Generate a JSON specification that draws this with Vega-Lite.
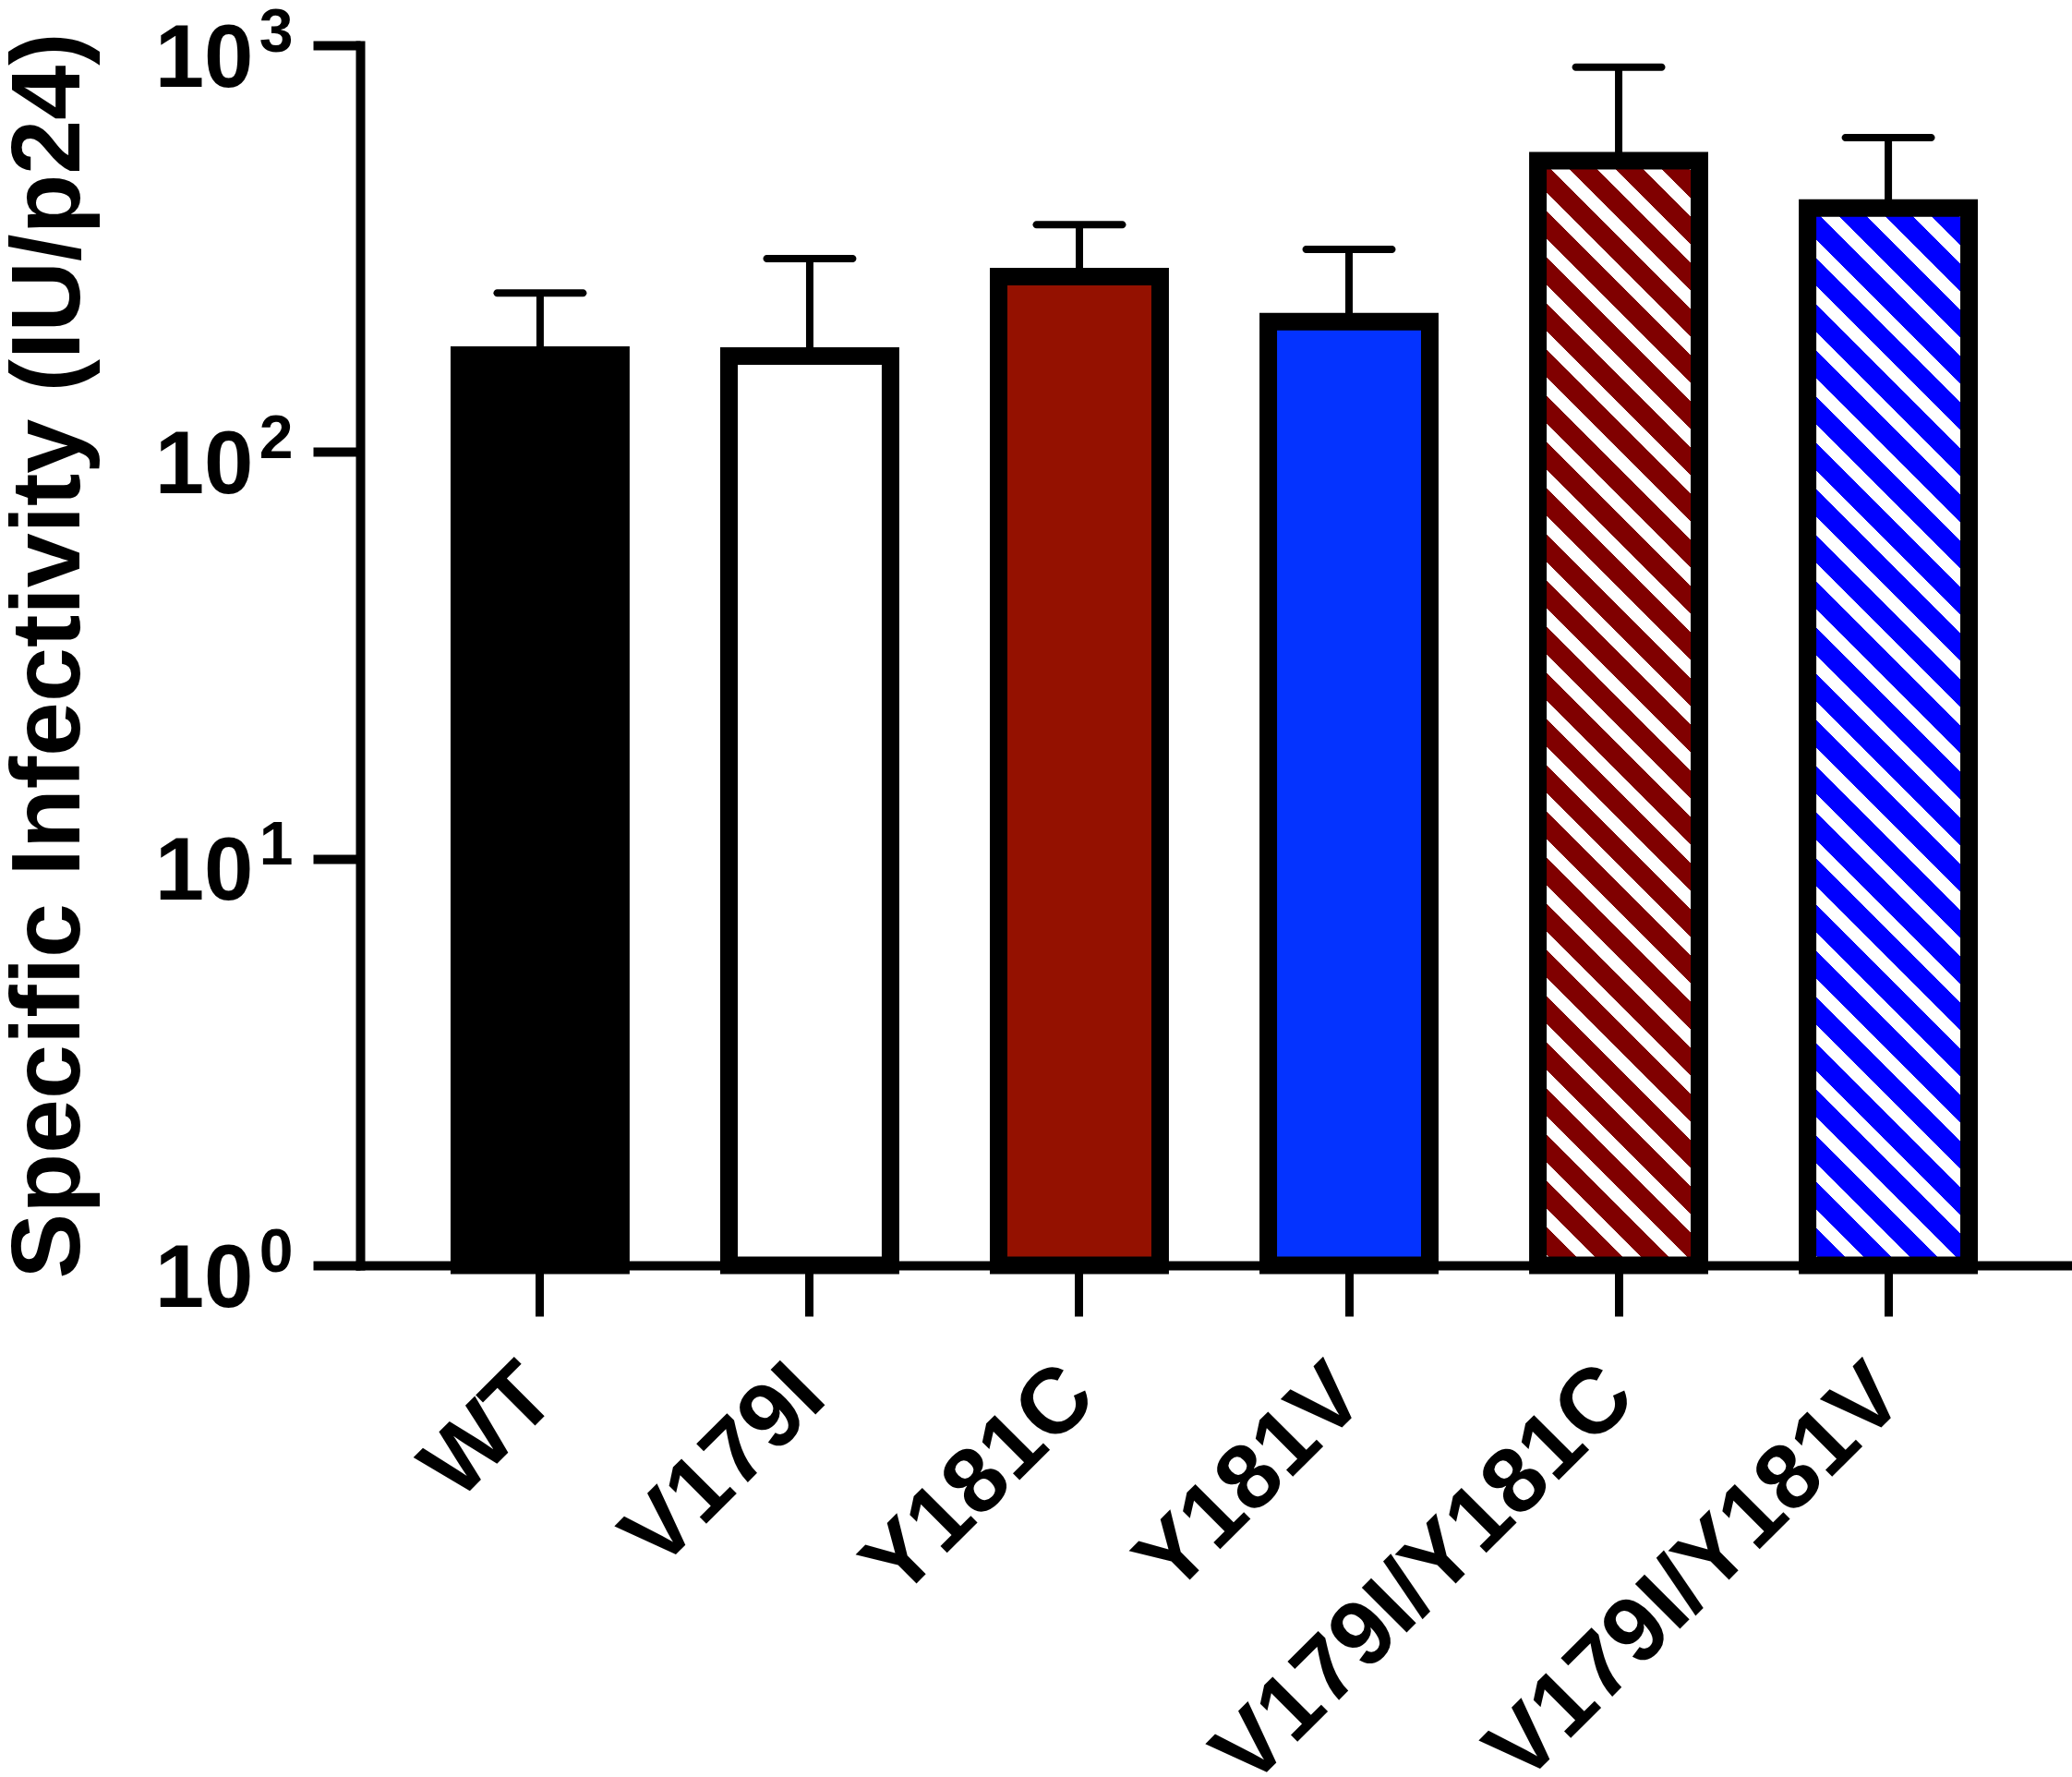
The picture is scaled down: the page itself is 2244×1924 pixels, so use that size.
{
  "$schema": "https://vega.github.io/schema/vega-lite/v6.json",
  "width": 1850,
  "height": 1321,
  "autosize": {"type": "none"},
  "padding": {"left": 390, "top": 49, "right": 4, "bottom": 554},
  "background": "white",
  "config": {"view": {"stroke": null}},
  "data": {
    "values": [
      {"name": "WT", "value": 173, "upper": 246},
      {"name": "V179I", "value": 172, "upper": 299},
      {"name": "Y181C", "value": 270, "upper": 362},
      {"name": "Y181V", "value": 209, "upper": 315},
      {"name": "V179I/Y181C", "value": 520, "upper": 883},
      {"name": "V179I/Y181V", "value": 398, "upper": 593}
    ]
  },
  "resolve": {"axis": {"y": "independent"}},
  "encoding": {
    "x": {
      "field": "name",
      "type": "nominal",
      "sort": null,
      "scale": {"paddingInner": 0.401, "paddingOuter": 0.368},
      "axis": {
        "title": null,
        "zindex": 1,
        "domainColor": "black",
        "domainWidth": 10,
        "domainCap": "square",
        "tickColor": "black",
        "tickWidth": 9,
        "tickSize": 55,
        "labelAngle": -45,
        "labelAlign": "right",
        "labelBaseline": "middle",
        "labelPadding": 70,
        "labelFont": "Liberation Sans",
        "labelFontWeight": "bold",
        "labelFontSize": 100,
        "labelColor": "black",
        "labelOverlap": false,
        "labelBound": false,
        "labelFlush": false,
        "labelLimit": 2000
      }
    },
    "y": {
      "field": "value",
      "type": "quantitative",
      "scale": {"type": "log", "domain": [1, 1000], "nice": false},
      "axis": null
    }
  },
  "layer": [
    {
      "mark": {"type": "rule", "color": "black", "strokeWidth": 8},
      "encoding": {
        "y": {
          "field": "upper",
          "type": "quantitative",
          "axis": {
            "title": "Specific Infectivity (IU/p24)",
            "titleFont": "Liberation Sans",
            "titleFontWeight": "bold",
            "titleFontSize": 106,
            "titleColor": "black",
            "titlePadding": 83,
            "orient": "left",
            "zindex": 1,
            "values": [1, 10, 100, 1000],
            "grid": false,
            "domainColor": "black",
            "domainWidth": 10,
            "domainCap": "square",
            "tickColor": "black",
            "tickWidth": 10,
            "tickSize": 51,
            "labelPadding": 65,
            "labelBaseline": "alphabetic",
            "labelOffset": 44,
            "labelFont": "Liberation Sans",
            "labelFontWeight": "bold",
            "labelFontSize": 96,
            "labelColor": "black",
            "labelExpr": "'10'",
            "labelOverlap": false,
            "labelFlush": false,
            "labelBound": false
          }
        },
        "y2": {"field": "value"}
      }
    },
    {
      "mark": {"type": "tick", "color": "black", "opacity": 1, "size": 101, "thickness": 8, "cornerRadius": 4, "orient": "horizontal"},
      "encoding": {
        "y": {
          "field": "upper",
          "type": "quantitative",
          "axis": {
            "title": null,
            "orient": "left",
            "zindex": 1,
            "values": [1, 10, 100, 1000],
            "grid": false,
            "domain": false,
            "ticks": true,
            "tickOpacity": 0,
            "tickSize": 51,
            "labelPadding": 22,
            "labelBaseline": "alphabetic",
            "labelOffset": 6,
            "labelFont": "Liberation Sans",
            "labelFontWeight": "bold",
            "labelFontSize": 66,
            "labelColor": "black",
            "labelExpr": "datum.value == 1 ? '0' : datum.value == 10 ? '1' : datum.value == 100 ? '2' : '3'",
            "labelOverlap": false,
            "labelFlush": false,
            "labelBound": false
          }
        }
      }
    },
    {
      "transform": [{"filter": "datum.name == 'WT' || datum.name == 'V179I' || datum.name == 'Y181C' || datum.name == 'Y181V'"}],
      "mark": {"type": "bar", "stroke": "black", "strokeWidth": 19, "strokeJoin": "miter"},
      "encoding": {
        "y2": {"datum": 1},
        "fill": {
          "field": "name",
          "type": "nominal",
          "scale": {"domain": ["WT", "V179I", "Y181C", "Y181V"], "range": ["#000000", "#ffffff", "#941100", "#0433ff"]},
          "legend": null
        }
      }
    },
    {
      "transform": [{"filter": "datum.name == 'V179I/Y181C'"}],
      "mark": {
        "type": "bar",
        "stroke": "black",
        "strokeWidth": 19,
        "strokeJoin": "miter",
        "fill": {
          "gradient": "linear",
          "x1": 0, "y1": 1, "x2": 0.16421, "y2": -0.12229,
          "stops": [
            {"offset": 0, "color": "#800000"},
            {"offset": 0.0007, "color": "#800000"}, {"offset": 0.0007, "color": "#ffffff"}, {"offset": 0.0153, "color": "#ffffff"}, {"offset": 0.0153, "color": "#800000"},
            {"offset": 0.0372, "color": "#800000"}, {"offset": 0.0372, "color": "#ffffff"}, {"offset": 0.0518, "color": "#ffffff"}, {"offset": 0.0518, "color": "#800000"},
            {"offset": 0.0737, "color": "#800000"}, {"offset": 0.0737, "color": "#ffffff"}, {"offset": 0.0883, "color": "#ffffff"}, {"offset": 0.0883, "color": "#800000"},
            {"offset": 0.1101, "color": "#800000"}, {"offset": 0.1101, "color": "#ffffff"}, {"offset": 0.1247, "color": "#ffffff"}, {"offset": 0.1247, "color": "#800000"},
            {"offset": 0.1466, "color": "#800000"}, {"offset": 0.1466, "color": "#ffffff"}, {"offset": 0.1612, "color": "#ffffff"}, {"offset": 0.1612, "color": "#800000"},
            {"offset": 0.1831, "color": "#800000"}, {"offset": 0.1831, "color": "#ffffff"}, {"offset": 0.1977, "color": "#ffffff"}, {"offset": 0.1977, "color": "#800000"},
            {"offset": 0.2195, "color": "#800000"}, {"offset": 0.2195, "color": "#ffffff"}, {"offset": 0.2341, "color": "#ffffff"}, {"offset": 0.2341, "color": "#800000"},
            {"offset": 0.2560, "color": "#800000"}, {"offset": 0.2560, "color": "#ffffff"}, {"offset": 0.2706, "color": "#ffffff"}, {"offset": 0.2706, "color": "#800000"},
            {"offset": 0.2925, "color": "#800000"}, {"offset": 0.2925, "color": "#ffffff"}, {"offset": 0.3071, "color": "#ffffff"}, {"offset": 0.3071, "color": "#800000"},
            {"offset": 0.3290, "color": "#800000"}, {"offset": 0.3290, "color": "#ffffff"}, {"offset": 0.3436, "color": "#ffffff"}, {"offset": 0.3436, "color": "#800000"},
            {"offset": 0.3654, "color": "#800000"}, {"offset": 0.3654, "color": "#ffffff"}, {"offset": 0.3800, "color": "#ffffff"}, {"offset": 0.3800, "color": "#800000"},
            {"offset": 0.4019, "color": "#800000"}, {"offset": 0.4019, "color": "#ffffff"}, {"offset": 0.4165, "color": "#ffffff"}, {"offset": 0.4165, "color": "#800000"},
            {"offset": 0.4384, "color": "#800000"}, {"offset": 0.4384, "color": "#ffffff"}, {"offset": 0.4530, "color": "#ffffff"}, {"offset": 0.4530, "color": "#800000"},
            {"offset": 0.4748, "color": "#800000"}, {"offset": 0.4748, "color": "#ffffff"}, {"offset": 0.4894, "color": "#ffffff"}, {"offset": 0.4894, "color": "#800000"},
            {"offset": 0.5113, "color": "#800000"}, {"offset": 0.5113, "color": "#ffffff"}, {"offset": 0.5259, "color": "#ffffff"}, {"offset": 0.5259, "color": "#800000"},
            {"offset": 0.5478, "color": "#800000"}, {"offset": 0.5478, "color": "#ffffff"}, {"offset": 0.5624, "color": "#ffffff"}, {"offset": 0.5624, "color": "#800000"},
            {"offset": 0.5842, "color": "#800000"}, {"offset": 0.5842, "color": "#ffffff"}, {"offset": 0.5988, "color": "#ffffff"}, {"offset": 0.5988, "color": "#800000"},
            {"offset": 0.6207, "color": "#800000"}, {"offset": 0.6207, "color": "#ffffff"}, {"offset": 0.6353, "color": "#ffffff"}, {"offset": 0.6353, "color": "#800000"},
            {"offset": 0.6572, "color": "#800000"}, {"offset": 0.6572, "color": "#ffffff"}, {"offset": 0.6718, "color": "#ffffff"}, {"offset": 0.6718, "color": "#800000"},
            {"offset": 0.6936, "color": "#800000"}, {"offset": 0.6936, "color": "#ffffff"}, {"offset": 0.7082, "color": "#ffffff"}, {"offset": 0.7082, "color": "#800000"},
            {"offset": 0.7301, "color": "#800000"}, {"offset": 0.7301, "color": "#ffffff"}, {"offset": 0.7447, "color": "#ffffff"}, {"offset": 0.7447, "color": "#800000"},
            {"offset": 0.7666, "color": "#800000"}, {"offset": 0.7666, "color": "#ffffff"}, {"offset": 0.7812, "color": "#ffffff"}, {"offset": 0.7812, "color": "#800000"},
            {"offset": 0.8031, "color": "#800000"}, {"offset": 0.8031, "color": "#ffffff"}, {"offset": 0.8177, "color": "#ffffff"}, {"offset": 0.8177, "color": "#800000"},
            {"offset": 0.8395, "color": "#800000"}, {"offset": 0.8395, "color": "#ffffff"}, {"offset": 0.8541, "color": "#ffffff"}, {"offset": 0.8541, "color": "#800000"},
            {"offset": 0.8760, "color": "#800000"}, {"offset": 0.8760, "color": "#ffffff"}, {"offset": 0.8906, "color": "#ffffff"}, {"offset": 0.8906, "color": "#800000"},
            {"offset": 0.9125, "color": "#800000"}, {"offset": 0.9125, "color": "#ffffff"}, {"offset": 0.9271, "color": "#ffffff"}, {"offset": 0.9271, "color": "#800000"},
            {"offset": 0.9489, "color": "#800000"}, {"offset": 0.9489, "color": "#ffffff"}, {"offset": 0.9635, "color": "#ffffff"}, {"offset": 0.9635, "color": "#800000"},
            {"offset": 0.9854, "color": "#800000"}, {"offset": 0.9854, "color": "#ffffff"}, {"offset": 1, "color": "#ffffff"}
          ]
        }
      },
      "encoding": {"y2": {"datum": 1}}
    },
    {
      "transform": [{"filter": "datum.name == 'V179I/Y181V'"}],
      "mark": {
        "type": "bar",
        "stroke": "black",
        "strokeWidth": 19,
        "strokeJoin": "miter",
        "fill": {
          "gradient": "linear",
          "x1": 0, "y1": 1, "x2": 0.17218, "y2": -0.12652,
          "stops": [
            {"offset": 0, "color": "#ffffff"}, {"offset": 0.0152, "color": "#ffffff"}, {"offset": 0.0152, "color": "#0000ff"},
            {"offset": 0.0379, "color": "#0000ff"}, {"offset": 0.0379, "color": "#ffffff"}, {"offset": 0.0530, "color": "#ffffff"}, {"offset": 0.0530, "color": "#0000ff"},
            {"offset": 0.0758, "color": "#0000ff"}, {"offset": 0.0758, "color": "#ffffff"}, {"offset": 0.0909, "color": "#ffffff"}, {"offset": 0.0909, "color": "#0000ff"},
            {"offset": 0.1136, "color": "#0000ff"}, {"offset": 0.1136, "color": "#ffffff"}, {"offset": 0.1288, "color": "#ffffff"}, {"offset": 0.1288, "color": "#0000ff"},
            {"offset": 0.1515, "color": "#0000ff"}, {"offset": 0.1515, "color": "#ffffff"}, {"offset": 0.1667, "color": "#ffffff"}, {"offset": 0.1667, "color": "#0000ff"},
            {"offset": 0.1894, "color": "#0000ff"}, {"offset": 0.1894, "color": "#ffffff"}, {"offset": 0.2045, "color": "#ffffff"}, {"offset": 0.2045, "color": "#0000ff"},
            {"offset": 0.2273, "color": "#0000ff"}, {"offset": 0.2273, "color": "#ffffff"}, {"offset": 0.2424, "color": "#ffffff"}, {"offset": 0.2424, "color": "#0000ff"},
            {"offset": 0.2652, "color": "#0000ff"}, {"offset": 0.2652, "color": "#ffffff"}, {"offset": 0.2803, "color": "#ffffff"}, {"offset": 0.2803, "color": "#0000ff"},
            {"offset": 0.3030, "color": "#0000ff"}, {"offset": 0.3030, "color": "#ffffff"}, {"offset": 0.3182, "color": "#ffffff"}, {"offset": 0.3182, "color": "#0000ff"},
            {"offset": 0.3409, "color": "#0000ff"}, {"offset": 0.3409, "color": "#ffffff"}, {"offset": 0.3561, "color": "#ffffff"}, {"offset": 0.3561, "color": "#0000ff"},
            {"offset": 0.3788, "color": "#0000ff"}, {"offset": 0.3788, "color": "#ffffff"}, {"offset": 0.3939, "color": "#ffffff"}, {"offset": 0.3939, "color": "#0000ff"},
            {"offset": 0.4167, "color": "#0000ff"}, {"offset": 0.4167, "color": "#ffffff"}, {"offset": 0.4318, "color": "#ffffff"}, {"offset": 0.4318, "color": "#0000ff"},
            {"offset": 0.4545, "color": "#0000ff"}, {"offset": 0.4545, "color": "#ffffff"}, {"offset": 0.4697, "color": "#ffffff"}, {"offset": 0.4697, "color": "#0000ff"},
            {"offset": 0.4924, "color": "#0000ff"}, {"offset": 0.4924, "color": "#ffffff"}, {"offset": 0.5076, "color": "#ffffff"}, {"offset": 0.5076, "color": "#0000ff"},
            {"offset": 0.5303, "color": "#0000ff"}, {"offset": 0.5303, "color": "#ffffff"}, {"offset": 0.5455, "color": "#ffffff"}, {"offset": 0.5455, "color": "#0000ff"},
            {"offset": 0.5682, "color": "#0000ff"}, {"offset": 0.5682, "color": "#ffffff"}, {"offset": 0.5833, "color": "#ffffff"}, {"offset": 0.5833, "color": "#0000ff"},
            {"offset": 0.6061, "color": "#0000ff"}, {"offset": 0.6061, "color": "#ffffff"}, {"offset": 0.6212, "color": "#ffffff"}, {"offset": 0.6212, "color": "#0000ff"},
            {"offset": 0.6439, "color": "#0000ff"}, {"offset": 0.6439, "color": "#ffffff"}, {"offset": 0.6591, "color": "#ffffff"}, {"offset": 0.6591, "color": "#0000ff"},
            {"offset": 0.6818, "color": "#0000ff"}, {"offset": 0.6818, "color": "#ffffff"}, {"offset": 0.6970, "color": "#ffffff"}, {"offset": 0.6970, "color": "#0000ff"},
            {"offset": 0.7197, "color": "#0000ff"}, {"offset": 0.7197, "color": "#ffffff"}, {"offset": 0.7348, "color": "#ffffff"}, {"offset": 0.7348, "color": "#0000ff"},
            {"offset": 0.7576, "color": "#0000ff"}, {"offset": 0.7576, "color": "#ffffff"}, {"offset": 0.7727, "color": "#ffffff"}, {"offset": 0.7727, "color": "#0000ff"},
            {"offset": 0.7955, "color": "#0000ff"}, {"offset": 0.7955, "color": "#ffffff"}, {"offset": 0.8106, "color": "#ffffff"}, {"offset": 0.8106, "color": "#0000ff"},
            {"offset": 0.8333, "color": "#0000ff"}, {"offset": 0.8333, "color": "#ffffff"}, {"offset": 0.8485, "color": "#ffffff"}, {"offset": 0.8485, "color": "#0000ff"},
            {"offset": 0.8712, "color": "#0000ff"}, {"offset": 0.8712, "color": "#ffffff"}, {"offset": 0.8864, "color": "#ffffff"}, {"offset": 0.8864, "color": "#0000ff"},
            {"offset": 0.9091, "color": "#0000ff"}, {"offset": 0.9091, "color": "#ffffff"}, {"offset": 0.9242, "color": "#ffffff"}, {"offset": 0.9242, "color": "#0000ff"},
            {"offset": 0.9470, "color": "#0000ff"}, {"offset": 0.9470, "color": "#ffffff"}, {"offset": 0.9621, "color": "#ffffff"}, {"offset": 0.9621, "color": "#0000ff"},
            {"offset": 0.9848, "color": "#0000ff"}, {"offset": 0.9848, "color": "#ffffff"}, {"offset": 1, "color": "#ffffff"}
          ]
        }
      },
      "encoding": {"y2": {"datum": 1}}
    }
  ]
}
